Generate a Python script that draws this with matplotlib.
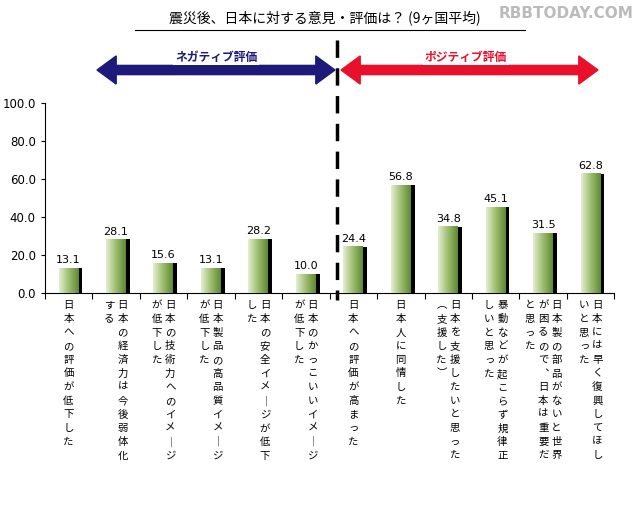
import matplotlib
matplotlib.use("Agg")
import matplotlib.pyplot as plt
import numpy as np
from matplotlib.patches import FancyArrow

plt.rcParams["font.family"] = ["Noto Sans CJK JP", "DejaVu Sans"]

values = [13.1, 28.1, 15.6, 13.1, 28.2, 10.0, 24.4, 56.8, 34.8, 45.1, 31.5, 62.8]
# each label: columns of vertical text, rightmost column first
labels = [
    ["日本への評価が低下した"],
    ["日本の経済力は今後弱体化", "する"],
    ["日本の技術力へのイメ｜ジ", "が低下した"],
    ["日本製品の高品質イメ｜ジ", "が低下した"],
    ["日本の安全イメ｜ジが低下", "した"],
    ["日本のかっこいいイメ｜ジ", "が低下した"],
    ["日本への評価が高まった"],
    ["日本人に同情した"],
    ["日本を支援したいと思った", "︵支援した︶"],
    ["暴動などが起こらず規律正", "しいと思った"],
    ["日本製の部品がないと世界", "が困るので︑日本は重要だ", "と思った"],
    ["日本には早く復興してほし", "いと思った"],
]
yticks = [0, 20, 40, 60, 80, 100]

fig = plt.figure(figsize=(6.4, 5.12), dpi=100)
ax = fig.add_axes([0.07, 0.428, 0.89, 0.371])
x = np.arange(len(values))
w = 0.42
grad = np.linspace(0, 1, 50).reshape(1, -1)
cmap = matplotlib.colors.LinearSegmentedColormap.from_list("g", ["#e4eed0", "#9dbd6e", "#5e8a34"])
for xi, v in zip(x, values):
    ax.bar(xi + 0.08, v, w, color="black", zorder=2)
    ax.imshow(grad, extent=[xi - w / 2, xi + w / 2, 0, v], aspect="auto", cmap=cmap, zorder=3)
    ax.text(xi, v + 1.5, f"{v:.1f}", ha="center", va="bottom", fontsize=8, family="DejaVu Sans")
ax.set_xlim(-0.5, len(values) - 0.5)
ax.set_ylim(0, 100)
ax.set_yticks(yticks)
ax.set_yticklabels([f"{t:.1f}" for t in yticks], family="DejaVu Sans", fontsize=8.5)
ax.set_xticks(np.arange(len(values) + 1) - 0.5)
ax.set_xticklabels([])
ax.tick_params(axis="x", length=4)
ax.tick_params(axis="y", length=3)
for s in ["top", "right"]:
    ax.spines[s].set_visible(False)

# category labels (vertical, columns right to left)
for xi, cols in zip(x, labels):
    n = len(cols)
    for j, col in enumerate(cols):
        off = (n - 1) / 2 * 0.28 - j * 0.28
        ax.text(xi + off, -4, "\n".join(col), ha="center", va="top", fontsize=7.5,
                linespacing=1.45, clip_on=False)

# dashed divider
fig.add_artist(plt.Line2D([337 / 640, 337 / 640], [1 - 40 / 512, 1 - 300 / 512],
                          color="black", lw=2.5, ls=(0, (5, 3))))
# arrows
yA = 1 - 70 / 512
for left, right, col in [(97, 335, "#1e1a7a"), (341, 598, "#e8102a")]:
    mid = 0.5 * (left + right) / 640
    half = (right - left) / 2 / 640 - 0.03
    for sgn in (-1, 1):
        fig.add_artist(FancyArrow(mid, yA, sgn * half, 0, width=0.018, head_width=0.055,
                                  head_length=0.03, color=col, transform=fig.transFigure))
fig.text(216 / 640, 1 - 57 / 512, "ネガティブ評価", ha="center", va="center", fontsize=8.5,
         weight="bold", color="#1e1a7a", bbox=dict(fc="white", ec="none", pad=1))
fig.text(466 / 640, 1 - 57 / 512, "ポジティブ評価", ha="center", va="center", fontsize=8.5,
         weight="bold", color="#e8102a", bbox=dict(fc="white", ec="none", pad=1))

fig.text(325 / 640, 1 - 18 / 512, "震災後、日本に対する意見・評価は？ (9ヶ国平均)", ha="center",
         va="center", fontsize=10)
fig.add_artist(plt.Line2D([135 / 640, 525 / 640], [1 - 30 / 512] * 2, color="black", lw=0.8))
fig.text(0.99, 1 - 14 / 512, "RBBTODAY.COM", ha="right", va="center", fontsize=11,
         color="#bbbbbb", weight="bold", family="DejaVu Sans")

fig.savefig("out.png", dpi=100)
